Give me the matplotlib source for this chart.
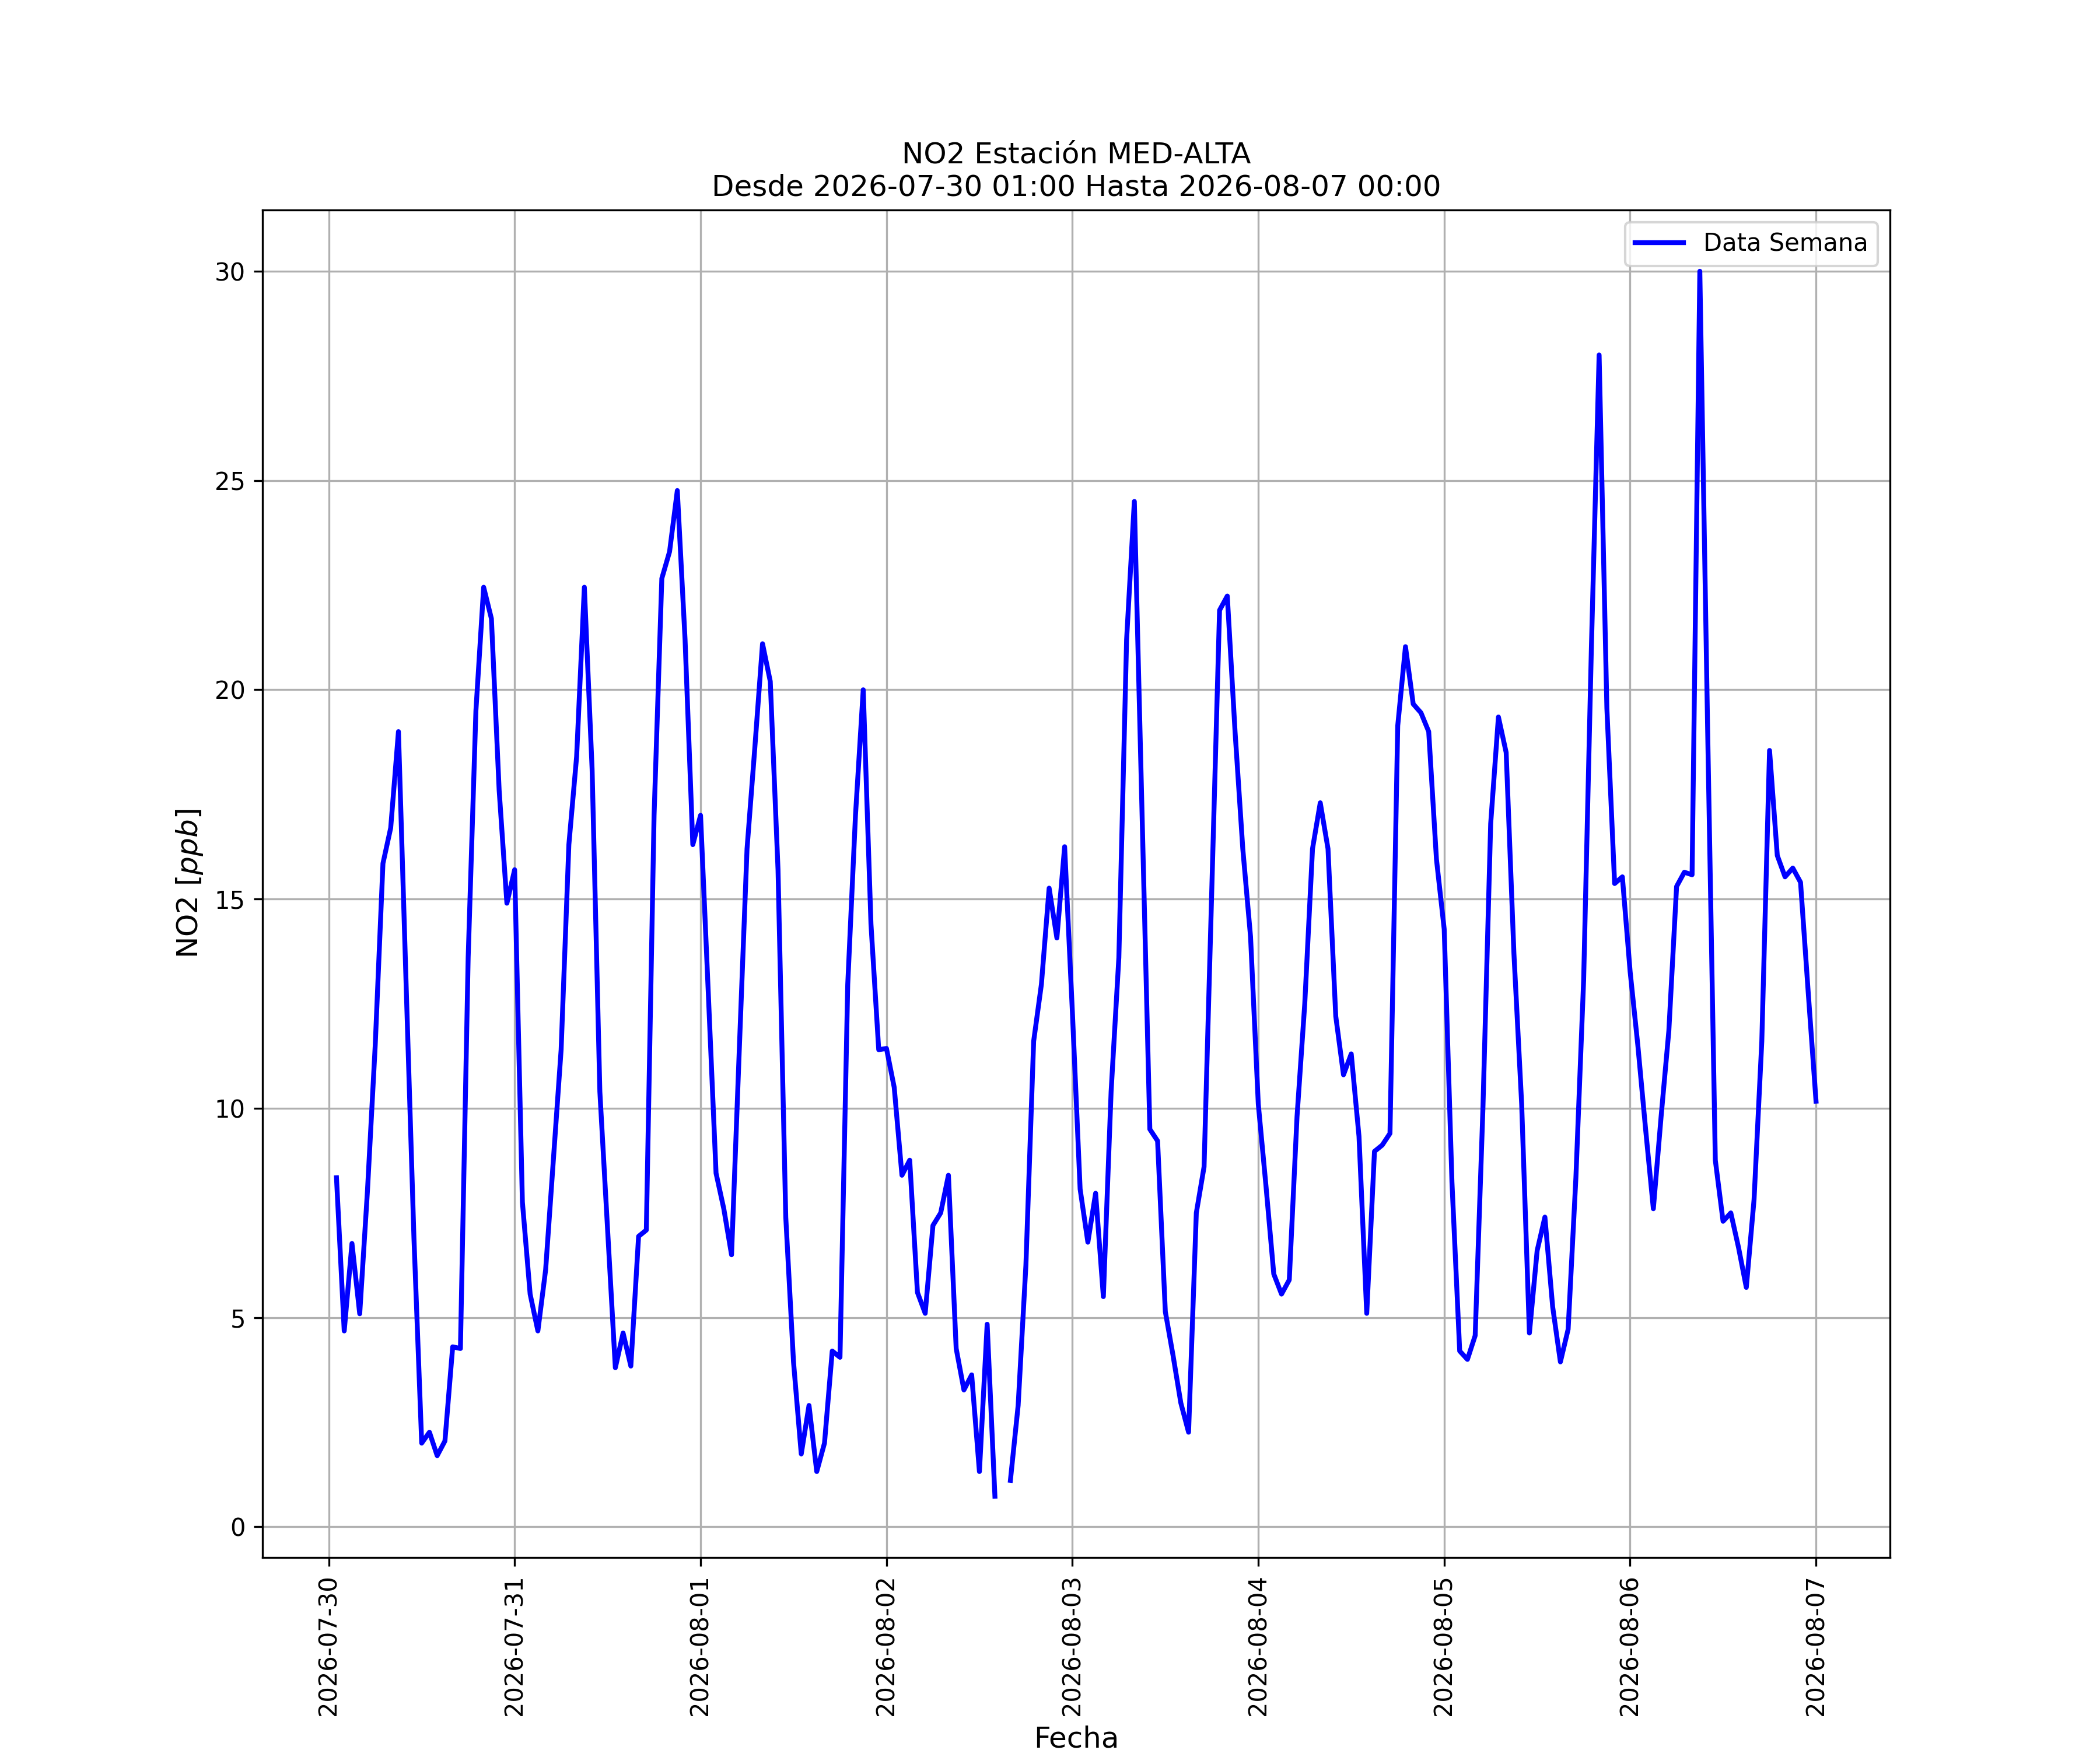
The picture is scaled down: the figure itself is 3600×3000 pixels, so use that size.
import numpy as np
import pandas as pd
import matplotlib
matplotlib.use("Agg")
import matplotlib.pyplot as plt
import matplotlib.dates as mdates

start_time = "2026-07-30 01:00"
end_time = "2026-08-07 00:00"
station = "MED-ALTA"
series_label = "Data Semana"

# Hourly NO2 values (ppb), one list per 24 h block starting at 2026-07-30 01:00
day1 = [8.34, 4.68, 6.77, 5.09, 8.03, 11.5, 15.85, 16.7, 19.0, 12.9, 6.9, 2.0,
        2.26, 1.7, 2.05, 4.3, 4.26, 13.6, 19.5, 22.45, 21.7, 17.6, 14.9, 15.7]
day2 = [7.76, 5.56, 4.68, 6.14, 8.76, 11.4, 16.3, 18.4, 22.45, 18.1, 10.4, 7.1,
        3.8, 4.63, 3.84, 6.94, 7.09, 17.0, 22.66, 23.3, 24.76, 21.2, 16.3, 17.0]
day3 = [12.75, 8.45, 7.6, 6.5, 11.4, 16.2, 18.6, 21.1, 20.2, 15.7, 7.4, 3.94,
        1.74, 2.9, 1.32, 2.0, 4.2, 4.05, 12.96, 17.0, 20.0, 14.4, 11.4, 11.43]
day4 = [10.5, 8.4, 8.76, 5.6, 5.1, 7.2, 7.5, 8.4, 4.26, 3.27, 3.63, 1.32,
        4.84, 0.73, np.nan, 1.11, 2.9, 6.25, 11.6, 12.96, 15.26, 14.07, 16.25, 12.3]
day5 = [8.07, 6.8, 7.97, 5.5, 10.4, 13.6, 21.2, 24.5, 17.0, 9.5, 9.22, 5.14,
        4.09, 2.96, 2.26, 7.5, 8.6, 15.25, 21.9, 22.24, 19.0, 16.2, 14.1, 10.1]
day6 = [8.13, 6.04, 5.56, 5.9, 9.8, 12.5, 16.2, 17.3, 16.2, 12.2, 10.8, 11.3,
        9.33, 5.1, 8.97, 9.12, 9.4, 19.14, 21.03, 19.66, 19.45, 19.0, 15.95, 14.28]
day7 = [8.24, 4.2, 4.0, 4.57, 10.0, 16.8, 19.35, 18.5, 13.7, 10.1, 4.63, 6.6,
        7.4, 5.26, 3.94, 4.72, 8.34, 13.06, 21.0, 28.0, 19.56, 15.37, 15.53, 13.27]
day8 = [11.5, 9.5, 7.6, 9.8, 11.85, 15.3, 15.64, 15.58, 30.0, 19.14, 8.76, 7.3,
        7.5, 6.67, 5.72, 7.82, 11.6, 18.55, 16.04, 15.53, 15.74, 15.4, 12.75, 10.17]

values = np.array(day1 + day2 + day3 + day4 + day5 + day6 + day7 + day8, dtype=float)
times = pd.date_range(start_time, periods=len(values), freq="h")

fig = plt.figure(figsize=(12, 10), dpi=300)
ax = fig.add_subplot(111)
ax.plot(times, values, color="blue", linewidth=2, label=series_label)

ax.set_title(f"NO2 Estación {station}\nDesde {start_time} Hasta {end_time}", fontsize=12)
ax.set_xlabel("Fecha", fontsize=12)
ax.set_ylabel("NO2 [$ppb$]", fontsize=12)
ax.xaxis.set_major_locator(mdates.DayLocator())
ax.xaxis.set_major_formatter(mdates.DateFormatter("%Y-%m-%d"))
plt.setp(ax.get_xticklabels(), rotation=90)
ax.grid(True)
ax.legend(loc="upper right")

fig.savefig("out.png", dpi=300)
